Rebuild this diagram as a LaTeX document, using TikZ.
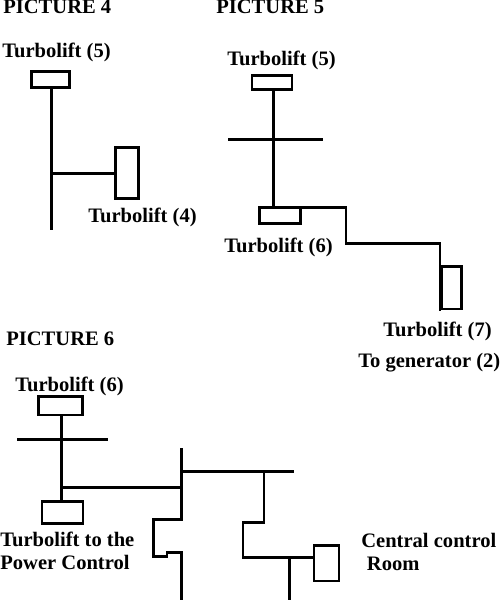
\documentclass[tikz,border=0pt]{standalone}
\usepackage{fontspec}
\setmainfont{Liberation Serif}
\usetikzlibrary{positioning}
\tikzset{
  liftbox/.style={draw, line width=1.7pt, inner sep=0pt, outer sep=0pt},
  liftlabel/.style={font=\bfseries\fontsize{11.7}{12.7}\selectfont, anchor=west, inner sep=0pt, align=left},
  shaft/.style={line width=1.7pt, line cap=rect, line join=miter}
}
\begin{document}
\begin{tikzpicture}[x=0.02cm, y=-0.02cm]
  \clip (0,0) rectangle (500,600);
  % picture 4
  \node[liftlabel] (titleD) at (3,7) {PICTURE 4};
  \node[liftlabel] (labelDa) at (2,52) {Turbolift (5)};
  \node[liftbox, minimum width=0.76cm, minimum height=0.32cm] (boxDa) at (50.5,79.5) {};
  \node[liftbox, minimum width=0.46cm, minimum height=1.02cm] (boxDb) at (127,173) {};
  \node[liftlabel] (labelDb) at (88,217) {Turbolift (4)};
  \coordinate (endD) at (51.5,228);
  \coordinate (forkD) at (51.5,173);
  \draw[shaft] (boxDa.south -| forkD) -- (endD);
  \draw[shaft] (forkD) -- (boxDb.west);
  % picture 5
  \node[liftlabel] (titleE) at (216,7) {PICTURE 5};
  \node[liftlabel] (labelEa) at (227,60) {Turbolift (5)};
  \node[liftbox, minimum width=0.8cm, minimum height=0.28cm] (boxEa) at (272,82) {};
  \node[liftbox, minimum width=0.82cm, minimum height=0.32cm] (boxEb) at (280,215) {};
  \node[liftlabel] (labelEb) at (224,247) {Turbolift (6)};
  \node[liftbox, minimum width=0.4cm, minimum height=0.86cm] (boxEc) at (451.5,287.5) {};
  \node[liftlabel] (labelEc) at (383,331) {Turbolift (7)};
  \node[liftlabel] (labelEd) at (358,363) {To generator (2)};
  \coordinate (crossEa) at (229,139);
  \coordinate (crossEb) at (322,139);
  \coordinate (stemE) at (273.5,139);
  \draw[shaft] (boxEa.south -| stemE) -- (boxEb.north -| stemE);
  \draw[shaft] (crossEa) -- (crossEb);
  \draw[shaft] (boxEb.north east) -| (346,243) -- (440,243) -- (440,309);
  % picture 6
  \node[liftlabel] (titleF) at (6,339) {PICTURE 6};
  \node[liftlabel] (labelFa) at (15,386) {Turbolift (6)};
  \node[liftbox, minimum width=0.88cm, minimum height=0.38cm] (boxFa) at (60.5,405.5) {};
  \node[liftbox, minimum width=0.82cm, minimum height=0.44cm] (boxFb) at (62.5,512.5) {};
  \node[liftlabel] (labelFb) at (0,551) {Turbolift to the\\Power Control};
  \node[liftbox, minimum width=0.5cm, minimum height=0.72cm] (boxFc) at (326.5,563) {};
  \node[liftlabel] (labelFc) at (361,552) {Central control\\\hspace*{3.2pt}Room};
  \coordinate (crossFa) at (18,439);
  \coordinate (crossFb) at (107,439);
  \coordinate (stemF) at (61.5,439);
  \coordinate (forkF) at (61.5,487);
  \coordinate (mainF) at (181.5,487);
  \coordinate (topF) at (181.5,449);
  \coordinate (busF) at (181.5,471);
  \coordinate (busendF) at (293,471);
  \coordinate (bendF) at (264,471);
  \coordinate (dropF) at (289.5,557);
  \draw[shaft] (boxFa.south -| stemF) -- (boxFb.north -| stemF);
  \draw[shaft] (crossFa) -- (crossFb);
  \draw[shaft] (forkF) -- (mainF);
  \draw[shaft] (topF) -- (181.5,519) -- (153.5,519) -- (153.5,556) -- (167,556) -- (167,552) -- (181.5,552) -- (181.5,602);
  \draw[shaft] (busF) -- (busendF);
  \draw[shaft] (bendF) -- (264,522) -- (243,522) -- (243,557) -- (boxFc.west |- dropF);
  \draw[shaft] (dropF) -- (289.5,602);
\end{tikzpicture}
\end{document}
